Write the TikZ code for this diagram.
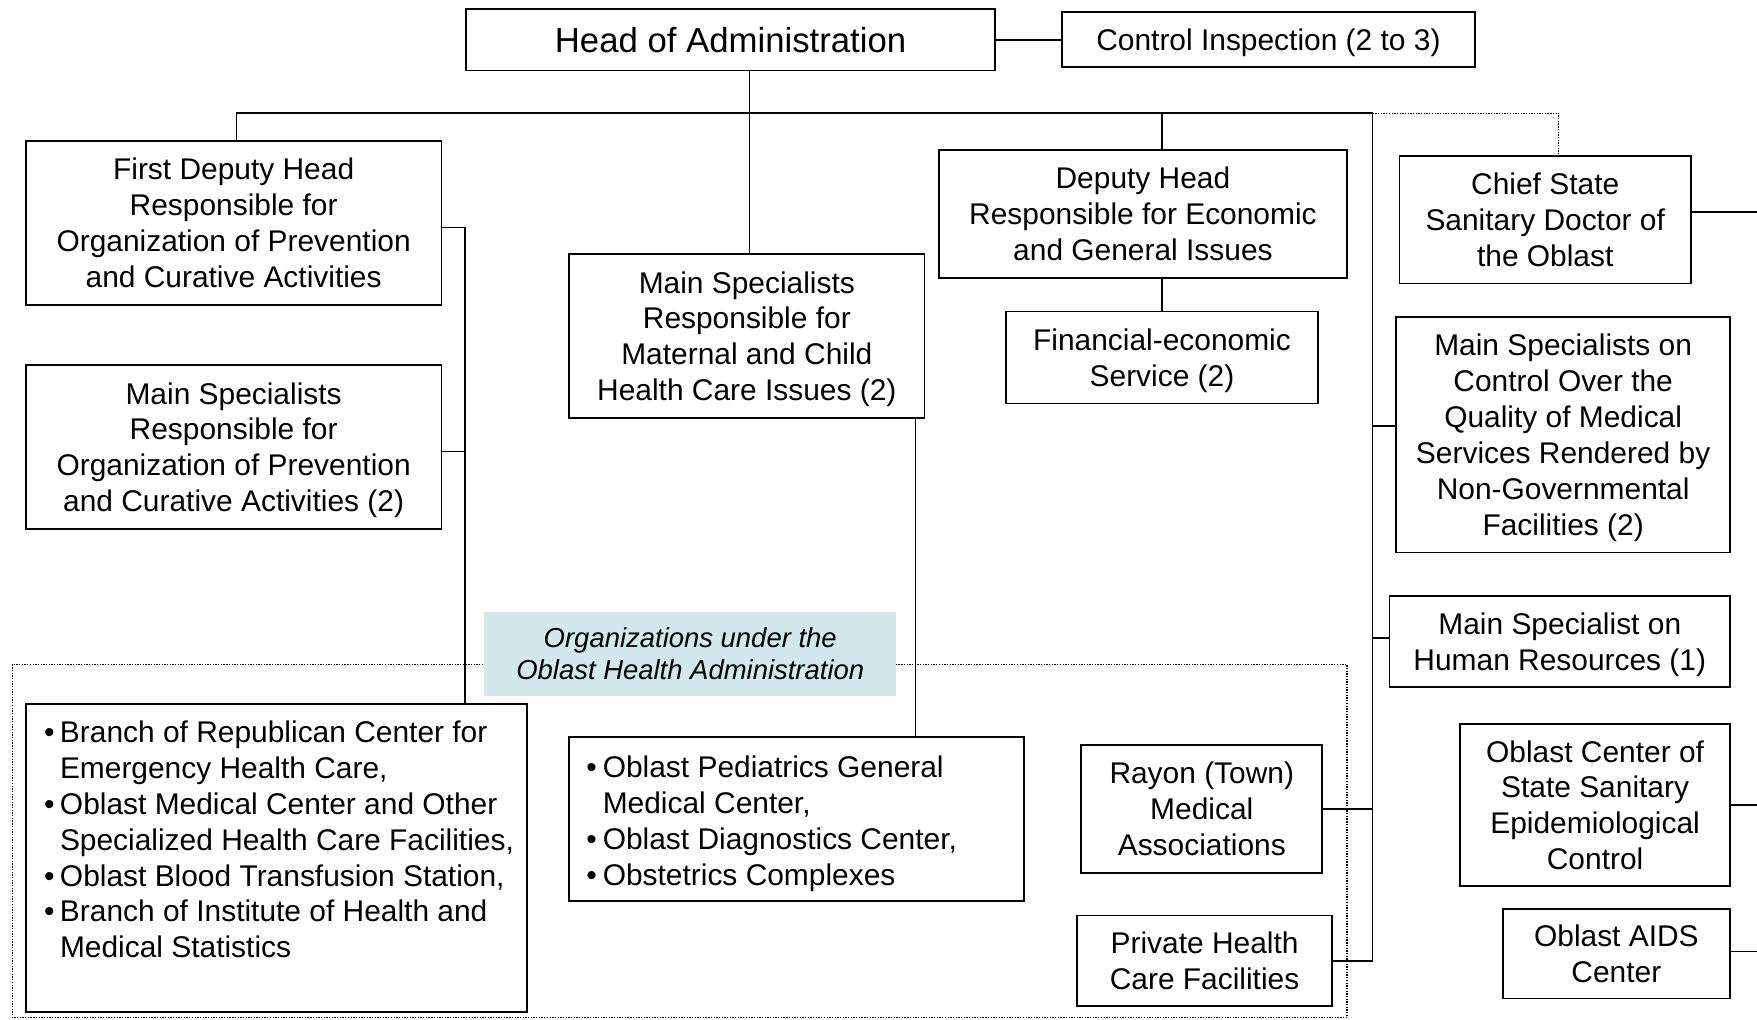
\documentclass[tikz,border=0pt]{standalone}
\usepackage{fontspec}
\setmainfont{Liberation Sans}
\usetikzlibrary{calc}
\definecolor{labelfill}{RGB}{210,232,235}
\newcommand\bodyfont{\fontsize{13.35pt}{16pt}\selectfont}
\newcommand\headfont{\fontsize{15.5pt}{18pt}\selectfont}
\newcommand\notefont{\fontsize{12.25pt}{14.5pt}\selectfont\itshape}
\newcommand\itembullet{\textbullet}
% invisible rules that give every text block the same top and bottom
\newcommand\toprule[1][12.6pt]{\rule{0pt}{#1}}
\begin{document}
\begin{tikzpicture}[x=0.5pt, y=-0.5pt,
  lastdepth/.style={execute at end node={\rule[-#1]{0pt}{#1}}},
  box/.style={draw, line width=0.8pt, align=center, inner sep=0pt, font=\bodyfont,
              lastdepth=3pt},
  sz/.style 2 args={minimum width=#1, minimum height=#2},
  link/.style={line width=0.7pt},
  dotline/.style={line width=0.6pt, dash pattern=on 0.6pt off 0.6pt},
  listtext/.style={inner sep=0pt, anchor=north west, font=\bodyfont}]
\useasboundingbox (0,0) rectangle (1568,910);

% group of subordinate organizations
\draw[dotline] (11,593) rectangle (1202,908);

% top level
\node[box, font=\headfont, lastdepth=3.5pt, sz={236pt}{27.5pt}] (head) at (652,35.5)
  {\toprule[14.7pt]Head of Administration};
\node[box, sz={184pt}{24.5pt}] (ctrl) at (1132,35.5) {\toprule Control Inspection (2 to 3)};

% deputies and specialists
\node[box, sz={185.5pt}{73pt}] (fdh) at (208.5,199)
  {\toprule First Deputy Head\\Responsible for\\Organization of Prevention\\and Curative Activities};
\node[box, sz={185.5pt}{73pt}] (msprev) at (208.5,399)
  {\toprule Main Specialists\\Responsible for\\Organization of Prevention\\and Curative Activities (2)};
\node[box, sz={158.5pt}{73pt}] (msmat) at (666.5,300)
  {\toprule Main Specialists\\Responsible for\\Maternal and Child\\Health Care Issues (2)};
\node[box, sz={182pt}{57pt}] (dep) at (1020,191)
  {\toprule Deputy Head\\Responsible for Economic\\and General Issues};
\node[box, sz={139pt}{41pt}] (fin) at (1037,319) {\toprule Financial-economic\\Service (2)};
\node[box, sz={130pt}{57pt}] (chief) at (1379,196)
  {\toprule Chief State\\Sanitary Doctor of\\the Oblast};
\node[box, sz={149pt}{105pt}] (msqual) at (1395,388)
  {\toprule Main Specialists on\\Control Over the\\Quality of Medical\\Services Rendered by\\Non-Governmental\\Facilities (2)};
\node[box, sz={152pt}{40.5pt}] (hr) at (1392,572.5) {\toprule Main Specialist on\\Human Resources (1)};
\node[box, sz={120.5pt}{72.5pt}] (ocsse) at (1423.5,718.5)
  {\toprule Oblast Center of\\State Sanitary\\Epidemiological\\Control};
\node[box, sz={101.5pt}{40pt}] (aids) at (1442.5,851) {\toprule Oblast AIDS\\Center};

% subordinate organizations
\node[box, sz={223.5pt}{137.5pt}] (branch) at (246.5,765.5) {};
\node[listtext] (branchtext) at (39,640) {%
  \begin{tabular}{@{}l@{\hspace{2.4pt}}l@{}}
  \itembullet & Branch of Republican Center for\\
              & Emergency Health Care,\\
  \itembullet & Oblast Medical Center and Other\\
              & Specialized Health Care Facilities,\\
  \itembullet & Oblast Blood Transfusion Station,\\
  \itembullet & Branch of Institute of Health and\\
              & Medical Statistics
  \end{tabular}};
\node[box, sz={203pt}{73pt}] (ped) at (711,731) {};
\node[listtext] (pedtext) at (523,671) {%
  \begin{tabular}{@{}l@{\hspace{2.6pt}}l@{}}
  \itembullet & Oblast Pediatrics General\\
              & Medical Center,\\
  \itembullet & Oblast Diagnostics Center,\\
  \itembullet & Obstetrics Complexes
  \end{tabular}};
\node[box, sz={107.5pt}{57pt}] (rayon) at (1072.5,722) {\toprule Rayon (Town)\\Medical\\Associations};
\node[box, sz={114pt}{40.5pt}] (priv) at (1075,857.5) {\toprule Private Health\\Care Facilities};

\node[fill=labelfill, inner sep=0pt, align=center, font=\notefont, lastdepth=3pt,
      minimum width=184pt, minimum height=37.5pt] (note) at (616,583.5)
  {\toprule[11.8pt]Organizations under the\\Oblast Health Administration};

% connector points
\coordinate (busL) at (211,101);
\coordinate (busM) at (669,101);
\coordinate (busD) at (1037,101);
\coordinate (trunk) at (1225,101);
\coordinate (dotc) at (1391,101);
\coordinate (leftv) at (415,0);
\coordinate (matv) at (817,0);
\coordinate (redge) at (1568,0);

% connectors
\draw[link] (head.east) -- (ctrl.west);
\draw[link] (busL) -- (trunk);
\draw[link] (busL) -- (busL |- fdh.north);
\draw[link] (busM |- head.south) -- (busM |- msmat.north);
\draw[link] (busD) -- (busD |- dep.north);
\draw[link] (busD |- dep.south) -- (busD |- fin.north);
\draw[dotline] (trunk) -- (dotc) -- (dotc |- chief.north);
\draw[link] (trunk) -- (trunk |- priv.east) -- (priv.east);
\draw[link] ([yshift=4pt]msqual.west) -- ([yshift=4pt]msqual.west -| trunk);
\draw[link] ([yshift=1.5pt]hr.west) -- ([yshift=1.5pt]hr.west -| trunk);
\draw[link] (rayon.east) -- (rayon.east -| trunk);
\draw[link] ([yshift=-2pt]fdh.east) -- ([yshift=-2pt]fdh.east -| leftv) -- (leftv |- branch.north);
\draw[link] ([yshift=-2pt]msprev.east) -- ([yshift=-2pt]msprev.east -| leftv);
\draw[link] (matv |- msmat.south) -- (matv |- ped.north);
\draw[link] ([yshift=3.5pt]chief.east) -- ([yshift=3.5pt]chief.east -| redge);
\draw[link] (ocsse.east) -- (ocsse.east -| redge);
\draw[link] ([yshift=1pt]aids.east) -- ([yshift=1pt]aids.east -| redge);
\end{tikzpicture}
\end{document}
